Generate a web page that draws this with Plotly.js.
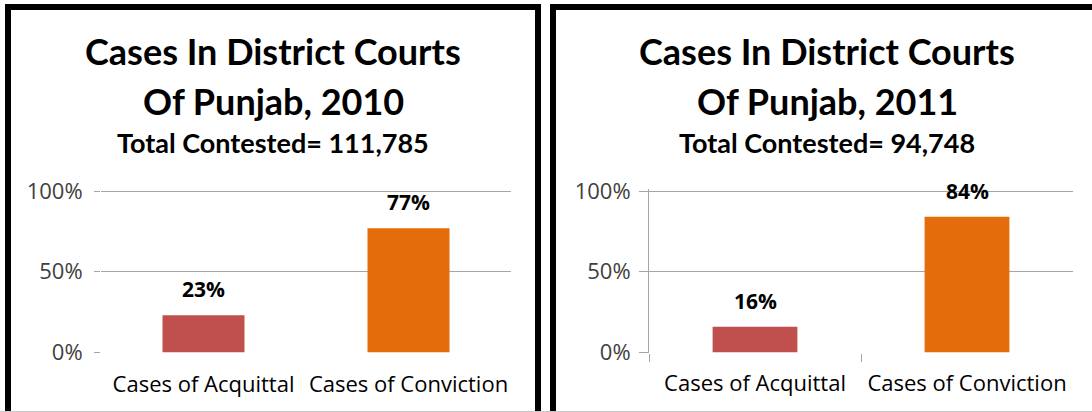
<!DOCTYPE html>
<html>
<head>
<meta charset="utf-8">
<script src="https://cdn.plot.ly/plotly-3.0.1.min.js"></script>
<style>html,body{margin:0;padding:0;background:#fff;}#chart{width:1092px;height:412px;}</style>
</head>
<body>
<div id="chart"></div>
<script>
// ---- data ----
const categories = ["Cases of Acquittal", "Cases of Conviction"];
const share2010 = [0.23, 0.77];
const share2011 = [0.16, 0.84];
const labels2010 = ["23%", "77%"];
const labels2011 = ["16%", "84%"];
const titleLine1 = "Cases In District Courts";
const titles2010 = ["Of Punjab, 2010", "Total Contested= 111,785"];
const titles2011 = ["Of Punjab, 2011", "Total Contested= 94,748"];
const yTickVals = [0, 0.5, 1];
const yTickText = ["0%", "50%", "100%"];
const barColors = ["#C0504D", "#E46C0A"];

// ---- layout helpers ----
const W = 1092, H = 412;
const px = x => x / W;
const py = y => 1 - y / H;
const FONT = "Open Sans, sans-serif";
const TFONT = "Lato, sans-serif";

const traces = [
  {type: "bar", x: categories, y: share2010, xaxis: "x", yaxis: "y",
   marker: {color: barColors, line: {width: 0}}, width: 0.4, hoverinfo: "none"},
  {type: "bar", x: categories, y: share2011, xaxis: "x2", yaxis: "y2",
   marker: {color: barColors, line: {width: 0}}, width: 0.4, hoverinfo: "none"}
];

const yTop = 1.01;
const yDomain = [py(352.5), py(352.5 - 161.5 * yTop)];
const common_y = {
  range: [0, yTop], tickvals: yTickVals, ticktext: yTickText, domain: yDomain,
  showgrid: true, gridcolor: "#a6a6a6", gridwidth: 1,
  zeroline: true, zerolinecolor: "#ffffff", zerolinewidth: 1,
  tickfont: {family: FONT, size: 22, color: "#404040"},
  ticks: "outside", tickcolor: "#a6a6a6", fixedrange: true
};

const layout = {
  width: W, height: H,
  margin: {l: 0, r: 0, t: 0, b: 0},
  paper_bgcolor: "#ffffff", plot_bgcolor: "rgba(0,0,0,0)",
  showlegend: false,
  bargap: 0.6,
  xaxis: {domain: [px(101), px(511)], anchor: "y", type: "category",
          showline: false, ticks: "", showgrid: false, zeroline: false,
          tickfont: {family: FONT, size: 22, color: "#000000"},
          ticklabelstandoff: 16, fixedrange: true},
  yaxis: Object.assign({}, common_y, {anchor: "x", ticklen: 6, showline: false, ticklabelstandoff: 7}),
  xaxis2: {domain: [px(649), px(1073)], anchor: "y2", type: "category",
           showline: false, ticks: "outside", tickson: "boundaries", ticklen: 8,
           tickcolor: "#a6a6a6", showgrid: false, zeroline: false,
           tickfont: {family: FONT, size: 22, color: "#000000"},
           ticklabelstandoff: 15, fixedrange: true},
  yaxis2: Object.assign({}, common_y, {anchor: "x2", ticklen: 9, showline: true,
           linecolor: "#a6a6a6", linewidth: 1, ticklabelstandoff: 4}),
  shapes: [
    {type: "rect", xref: "paper", yref: "paper", x0: px(8), x1: px(538), y0: py(430), y1: py(7),
     line: {color: "#000000", width: 6}, fillcolor: "rgba(0,0,0,0)", layer: "above"},
    {type: "rect", xref: "paper", yref: "paper", x0: px(553), x1: px(1110), y0: py(430), y1: py(7),
     line: {color: "#000000", width: 6}, fillcolor: "rgba(0,0,0,0)", layer: "above"},
    {type: "line", xref: "paper", yref: "paper", x0: 0, x1: 1, y0: py(411.5), y1: py(411.5),
     line: {color: "#c8c8c8", width: 1}, layer: "above"}
  ],
  annotations: []
};

function addTitles(cx, lines) {
  const ys = [51, 101, 143];
  const sizes = [36, 36, 27];
  lines.forEach((t, i) => {
    layout.annotations.push({xref: "paper", yref: "paper", x: px(cx), y: py(ys[i]),
      xanchor: "center", yanchor: "middle", showarrow: false, text: "<b>" + t + "</b>",
      font: {family: TFONT, size: sizes[i], color: "#000000"}});
  });
}
addTitles(273, [titleLine1].concat(titles2010));
addTitles(827, [titleLine1].concat(titles2011));

function addLabels(xa, ya, vals, labs) {
  categories.forEach((c, i) => {
    layout.annotations.push({xref: xa, yref: ya, x: c, y: vals[i], yanchor: "bottom",
      xanchor: "center", yshift: 10, showarrow: false, text: "<b>" + labs[i] + "</b>",
      font: {family: FONT, size: 21, color: "#000000"}});
  });
}
addLabels("x", "y", share2010, labels2010);
addLabels("x2", "y2", share2011, labels2011);

Plotly.newPlot("chart", traces, layout, {staticPlot: true, displayModeBar: false});
</script>
</body>
</html>
